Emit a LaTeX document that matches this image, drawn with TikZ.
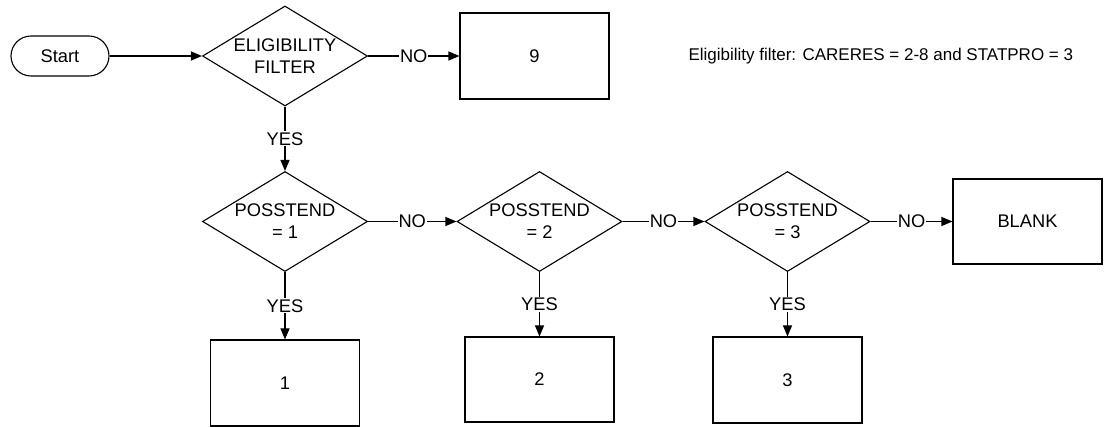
\documentclass[tikz,border=0pt]{standalone}
\usepackage{fontspec}
\setmainfont{Liberation Sans}
\usetikzlibrary{shapes.geometric,arrows.meta}
\tikzset{
  terminal/.style={draw,rectangle,rounded corners=20pt,minimum width=98,minimum height=40},
  decision/.style={draw,diamond,aspect=1.65,inner sep=0pt,minimum width=165,minimum height=100,align=center},
  outcome/.style={draw,rectangle,minimum width=149,minimum height=86},
  flow/.style={-{Triangle[length=11pt,width=9pt]}},
  answer/.style={fill=white,inner sep=1pt}
}
\begin{document}
\begin{tikzpicture}[x=1pt,y=-1pt,line width=1.1pt,font=\fontsize{18.3}{22}\selectfont]
\useasboundingbox (0,0) rectangle (1113,427);
\node[terminal] (start) at (60,56) {Start};
\node[decision] (elig) at (285,56) {ELIGIBILITY\\FILTER};
\node[outcome] (out9) at (534.5,56) {9};
\node[anchor=west,inner sep=0pt,font=\fontsize{17}{20}\selectfont] (note) at (688,56) {Eligibility filter: CARERES = 2-8 and STATPRO = 3};

\node[decision] (pos1) at (285,221.5) {POSSTEND\\= 1};
\node[decision] (pos2) at (539.5,221.5) {POSSTEND\\= 2};
\node[decision] (pos3) at (787.5,221.5) {POSSTEND\\= 3};
\node[outcome,minimum height=85] (blank) at (1027.5,221.5) {BLANK};

\node[outcome] (out1) at (285,383) {1};
\node[outcome,minimum height=85] (out2) at (539.5,379.5) {2};
\node[outcome] (out3) at (787.5,380) {3};

\draw[flow] (start) -- (elig);
\draw[flow] (elig) -- node[answer]{NO} (out9);
\draw[flow] (elig) -- node[answer]{YES} (pos1);

\draw[flow] (pos1) -- node[answer]{NO} (pos2);
\draw[flow] (pos2) -- node[answer]{NO} (pos3);
\draw[flow] (pos3) -- node[answer]{NO} (blank);

\draw[flow] (pos1) -- node[answer]{YES} (out1);
\draw[flow] (pos2) -- node[answer]{YES} (out2);
\draw[flow] (pos3) -- node[answer]{YES} (out3);
\end{tikzpicture}
\end{document}
